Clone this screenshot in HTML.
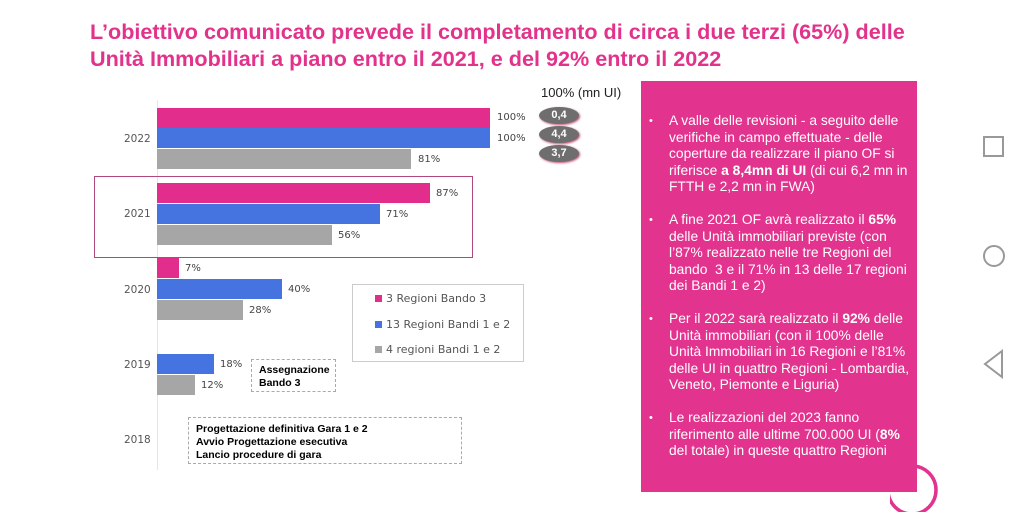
<!DOCTYPE html>
<html><head><meta charset="utf-8"><style>
body{margin:0;width:1024px;height:512px;background:#fff;position:relative;overflow:hidden;font-family:"Liberation Sans",sans-serif}
.a{position:absolute}
.t{left:90px;top:18px;color:#e2328b;font-weight:bold;font-size:21.6px;line-height:27px;white-space:nowrap}
.bar{position:absolute;left:157px;height:20px}
.p{background:#e22d8c}.b{background:#4573e0}.g{background:#a6a6a6}
.v{position:absolute;font-size:10px;color:#444;font-family:"DejaVu Sans",sans-serif}
.y{position:absolute;left:124px;font-size:10.5px;color:#555;font-family:"DejaVu Sans",sans-serif}
.pill{position:absolute;left:539px;width:40px;height:17px;border-radius:50%;background:#6e6e6e;color:#fff;font-weight:bold;font-size:11px;text-align:center;line-height:17px;box-shadow:1px 1px 2px #c04a70}
.panel{left:641px;top:81px;width:276px;height:411px;background:#e2338e;color:#fff;font-size:13.8px;line-height:16.6px}
.panel ul{margin:0;padding:32px 2px 0 28px}
.panel li{margin-bottom:16px;list-style:none;position:relative}
.panel li:before{content:"•";position:absolute;left:-20px;font-size:11px}
</style></head><body>
<div class="a t">L’obiettivo comunicato prevede il completamento di circa i due terzi (65%) delle<br>Unità Immobiliari a piano entro il 2021, e del 92% entro il 2022</div>
<div class="a" style="left:157px;top:100px;width:1px;height:370px;background:#e6e6e6"></div>
<div class="a" style="left:94px;top:176px;width:377px;height:80px;border:1px solid #b0487f"></div>
<div class="bar p" style="top:108px;width:333px"></div>
<div class="bar b" style="top:128px;width:333px"></div>
<div class="bar g" style="top:149px;width:254px"></div>
<div class="bar p" style="top:183px;width:273px"></div>
<div class="bar b" style="top:204px;width:223px"></div>
<div class="bar g" style="top:225px;width:175px"></div>
<div class="bar p" style="top:258px;width:22px"></div>
<div class="bar b" style="top:279px;width:125px"></div>
<div class="bar g" style="top:300px;width:86px"></div>
<div class="bar b" style="top:354px;width:57px"></div>
<div class="bar g" style="top:375px;width:38px"></div>
<div class="v" style="left:497px;top:112px">100%</div>
<div class="v" style="left:497px;top:133px">100%</div>
<div class="v" style="left:418px;top:154px">81%</div>
<div class="v" style="left:436px;top:188px">87%</div>
<div class="v" style="left:386px;top:209px">71%</div>
<div class="v" style="left:338px;top:230px">56%</div>
<div class="v" style="left:185px;top:263px">7%</div>
<div class="v" style="left:288px;top:284px">40%</div>
<div class="v" style="left:249px;top:305px">28%</div>
<div class="v" style="left:220px;top:359px">18%</div>
<div class="v" style="left:201px;top:380px">12%</div>
<div class="y" style="top:133px">2022</div>
<div class="y" style="top:208px">2021</div>
<div class="y" style="top:284px">2020</div>
<div class="y" style="top:359px">2019</div>
<div class="y" style="top:434px">2018</div>
<div class="a" style="left:541px;top:85px;font-size:13px;color:#222">100% (mn UI)</div>
<div class="pill" style="top:107px">0,4</div>
<div class="pill" style="top:126px">4,4</div>
<div class="pill" style="top:145px">3,7</div>
<div class="a" style="left:352px;top:284px;width:170px;height:76px;border:1px solid #ccc;font-size:11px;color:#555;font-family:'DejaVu Sans',sans-serif;line-height:25.5px">
<div style="padding:1px 0 0 22px"><span style="display:inline-block;width:7px;height:7px;background:#e22d8c;margin-right:4px"></span>3 Regioni Bando 3<br><span style="display:inline-block;width:7px;height:7px;background:#4573e0;margin-right:4px"></span>13 Regioni Bandi 1 e 2<br><span style="display:inline-block;width:7px;height:7px;background:#a6a6a6;margin-right:4px"></span>4 regioni Bandi 1 e 2</div></div>
<div class="a" style="left:251px;top:359px;width:85px;height:33px;border:1px dashed #aaa;font-size:10.5px;font-weight:bold;line-height:13px;padding:4px 0 0 7px;box-sizing:border-box">Assegnazione<br>Bando 3</div>
<div class="a" style="left:188px;top:417px;width:274px;height:47px;border:1px dashed #aaa;font-size:10.5px;font-weight:bold;line-height:13px;padding:5px 0 0 7px;box-sizing:border-box">Progettazione definitiva Gara 1 e 2<br>Avvio Progettazione esecutiva<br>Lancio procedure di gara</div>
<svg class="a" style="left:890px;top:450px" width="70" height="62"><circle cx="22" cy="40" r="24" fill="none" stroke="#e2338e" stroke-width="3.5"/></svg>
<div class="a panel"><ul>
<li>A valle delle revisioni - a seguito delle verifiche in campo effettuate - delle coperture da realizzare il piano OF si riferisce <b>a 8,4mn di UI</b> (di cui 6,2 mn in FTTH e 2,2 mn in FWA)</li>
<li>A fine 2021 OF avrà realizzato il <b>65%</b> delle Unità immobiliari previste (con l’87% realizzato nelle tre Regioni del bando&nbsp; 3 e il 71% in 13 delle 17 regioni dei Bandi 1 e 2)</li>
<li>Per il 2022 sarà realizzato il <b>92%</b> delle Unità immobiliari (con il 100% delle Unità Immobiliari in 16 Regioni e l’81% delle UI in quattro Regioni - Lombardia, Veneto, Piemonte e Liguria)</li>
<li>Le realizzazioni del 2023 fanno riferimento alle ultime 700.000 UI (<b>8%</b> del totale) in queste quattro Regioni</li>
</ul></div>
<svg class="a" style="left:975px;top:130px" width="40" height="260"><rect x="9" y="7" width="19" height="19" fill="none" stroke="#999" stroke-width="2"/><circle cx="19" cy="126" r="10" fill="none" stroke="#999" stroke-width="2"/><path d="M27 221 L10 234 L27 247 Z" fill="none" stroke="#999" stroke-width="2"/></svg>
</body></html>
